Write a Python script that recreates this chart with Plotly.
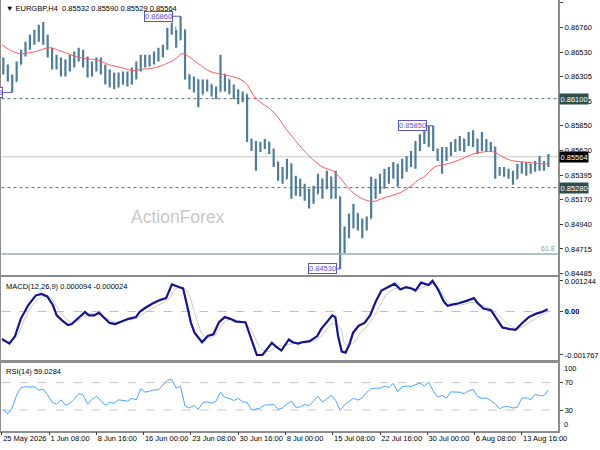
import numpy as np
import plotly.graph_objects as go

# EURGBP H4; price bars are merged to 12h (3 x H4) bars
first_open = 0.86420
highs = [0.86479, 0.86415, 0.86323, 0.86442, 0.86552, 0.86625, 0.86689, 0.86735, 0.86781, 0.86808,
         0.86689, 0.86570, 0.86506, 0.86479, 0.86460, 0.86506, 0.86534, 0.86570, 0.86552, 0.86488,
         0.86442, 0.86479, 0.86479, 0.86415, 0.86369, 0.86341, 0.86341, 0.86350, 0.86350, 0.86387,
         0.86442, 0.86506, 0.86506, 0.86506, 0.86534, 0.86570, 0.86598, 0.86753, 0.86799, 0.86735,
         0.86860, 0.86735, 0.86323, 0.86305, 0.86277, 0.86277, 0.86277, 0.86231, 0.86213, 0.86506,
         0.86323, 0.86277, 0.86231, 0.86186, 0.86167, 0.86140, 0.85728, 0.85709, 0.85700, 0.85728,
         0.85700, 0.85636, 0.85517, 0.85471, 0.85545, 0.85499, 0.85389, 0.85361, 0.85316, 0.85270,
         0.85297, 0.85407, 0.85361, 0.85435, 0.85380, 0.85435, 0.85197, 0.84922, 0.85041, 0.85132,
         0.85041, 0.84995, 0.85013, 0.85380, 0.85361, 0.85407, 0.85453, 0.85471, 0.85517, 0.85499,
         0.85545, 0.85572, 0.85618, 0.85709, 0.85773, 0.85801, 0.85847, 0.85850, 0.85636, 0.85654,
         0.85654, 0.85700, 0.85728, 0.85755, 0.85728, 0.85792, 0.85810, 0.85728, 0.85792, 0.85728,
         0.85700, 0.85654, 0.85471, 0.85471, 0.85453, 0.85435, 0.85499, 0.85517, 0.85517, 0.85499,
         0.85526, 0.85572, 0.85526, 0.85590]
lows = [0.86323, 0.86259, 0.86158, 0.86259, 0.86415, 0.86488, 0.86552, 0.86598, 0.86625, 0.86598,
        0.86479, 0.86369, 0.86369, 0.86305, 0.86305, 0.86350, 0.86387, 0.86442, 0.86387, 0.86295,
        0.86305, 0.86350, 0.86323, 0.86231, 0.86204, 0.86186, 0.86204, 0.86231, 0.86213, 0.86231,
        0.86277, 0.86350, 0.86387, 0.86396, 0.86415, 0.86442, 0.86479, 0.86552, 0.86689, 0.86570,
        0.86643, 0.86277, 0.86186, 0.86158, 0.86021, 0.86140, 0.86167, 0.86121, 0.86094, 0.86167,
        0.86167, 0.86140, 0.86094, 0.86048, 0.86066, 0.85700, 0.85618, 0.85435, 0.85609, 0.85636,
        0.85590, 0.85471, 0.85343, 0.85316, 0.85361, 0.85178, 0.85206, 0.85197, 0.85160, 0.85087,
        0.85132, 0.85224, 0.85178, 0.85270, 0.85178, 0.85178, 0.84530, 0.84675, 0.84812, 0.84903,
        0.84885, 0.84812, 0.84885, 0.84995, 0.85178, 0.85224, 0.85270, 0.85316, 0.85361, 0.85288,
        0.85361, 0.85426, 0.85471, 0.85453, 0.85618, 0.85682, 0.85654, 0.85618, 0.85526, 0.85407,
        0.85526, 0.85572, 0.85609, 0.85618, 0.85609, 0.85664, 0.85654, 0.85590, 0.85618, 0.85609,
        0.85609, 0.85361, 0.85389, 0.85380, 0.85361, 0.85307, 0.85361, 0.85407, 0.85389, 0.85407,
        0.85426, 0.85435, 0.85435, 0.85471]
closes = [0.86369, 0.86277, 0.86259, 0.86415, 0.86534, 0.86598, 0.86643, 0.86689, 0.86717, 0.86662,
          0.86534, 0.86442, 0.86460, 0.86369, 0.86415, 0.86442, 0.86506, 0.86506, 0.86460, 0.86350,
          0.86387, 0.86442, 0.86369, 0.86295, 0.86259, 0.86277, 0.86259, 0.86323, 0.86259, 0.86323,
          0.86415, 0.86460, 0.86442, 0.86479, 0.86506, 0.86534, 0.86570, 0.86717, 0.86753, 0.86643,
          0.86735, 0.86323, 0.86231, 0.86277, 0.86140, 0.86259, 0.86231, 0.86186, 0.86167, 0.86323,
          0.86277, 0.86204, 0.86140, 0.86121, 0.86140, 0.85728, 0.85682, 0.85654, 0.85664, 0.85700,
          0.85636, 0.85517, 0.85407, 0.85361, 0.85499, 0.85270, 0.85316, 0.85252, 0.85224, 0.85178,
          0.85224, 0.85361, 0.85270, 0.85380, 0.85316, 0.85197, 0.84720, 0.84858, 0.84977, 0.85041,
          0.84949, 0.84903, 0.84995, 0.85316, 0.85270, 0.85361, 0.85380, 0.85435, 0.85453, 0.85380,
          0.85499, 0.85545, 0.85590, 0.85636, 0.85728, 0.85755, 0.85819, 0.85636, 0.85590, 0.85545,
          0.85636, 0.85682, 0.85700, 0.85728, 0.85709, 0.85755, 0.85728, 0.85636, 0.85682, 0.85682,
          0.85654, 0.85453, 0.85435, 0.85407, 0.85389, 0.85361, 0.85453, 0.85471, 0.85453, 0.85453,
          0.85499, 0.85499, 0.85490, 0.85564]

# red moving average, sampled at H4 bar numbers
ma_bar = [0, 5, 12, 19, 25, 32, 37, 43, 50, 57, 66, 72, 81, 88, 94, 104, 110, 117, 122, 132,
          141, 150, 164, 172, 184, 192, 199, 208, 217, 225, 231, 237, 244, 251, 257, 264, 271, 277, 283, 286,
          293, 299, 306, 313, 319, 326, 333, 339, 346, 353, 359, 366, 370]
ma = [0.86598, 0.86552, 0.86515, 0.86524, 0.86543, 0.86570, 0.86552, 0.86524, 0.86488, 0.86469,
      0.86451, 0.86415, 0.86387, 0.86360, 0.86369, 0.86387, 0.86415, 0.86460, 0.86515, 0.86433,
      0.86350, 0.86323, 0.86259, 0.86103, 0.85975, 0.85828, 0.85709, 0.85572, 0.85471, 0.85426,
      0.85334, 0.85242, 0.85178, 0.85151, 0.85178, 0.85206, 0.85242, 0.85297, 0.85361, 0.85380,
      0.85471, 0.85490, 0.85517, 0.85554, 0.85590, 0.85609, 0.85609, 0.85563, 0.85526, 0.85517,
      0.85508, 0.85499, 0.85499]

macd_bar = [0, 5.1, 8.9, 12.8, 17.9, 23.0, 26.8, 30.7, 34.5, 37.1,
            40.9, 44.7, 47.3, 49.9, 53.7, 56.3, 58.8, 62.6, 65.7, 69.0,
            72.9, 76.7, 80.5, 85.7, 90.8, 93.3, 97.2, 102.3, 107.4, 111.2,
            115.1, 118.9, 122.7, 125.3, 127.9, 130.4, 135.5, 139.4, 143.2, 147.0,
            150.9, 154.7, 158.5, 164.9, 168.8, 172.6, 176.4, 179.0, 182.8, 185.4,
            189.2, 194.3, 196.9, 200.7, 203.3, 208.4, 213.5, 216.1, 219.9, 223.7,
            225.8, 227.6, 230.1, 232.7, 235.2, 237.8, 241.6, 245.5, 249.3, 253.1,
            257.0, 260.8, 265.9, 269.8, 273.6, 277.4, 280.0, 283.8, 288.9, 291.5,
            295.3, 299.2, 301.7, 305.6, 309.4, 314.5, 319.6, 322.2, 326.0, 331.1,
            335.0, 338.8, 343.9, 347.8, 351.6, 356.7, 361.8, 365.7, 369.5]
macd = [-0.001109, -0.001305, -0.000997, -0.000297, 0.000264, 0.000656, 0.000712, 0.000614, 0.000264, -0.000156,
        -0.000367, -0.000549, -0.000507, -0.000367, -0.000128, -0.000016, -0.000156, -0.000156, -0.000044, -0.000227,
        -0.000465, -0.000507, -0.000409, -0.000297, -0.000227, -0.000016, 0.000152, 0.000334, 0.000474, 0.000544,
        0.001104, 0.001034, 0.000936, 0.000264, -0.000437, -0.000857, -0.001249, -0.000997, -0.000927, -0.000437,
        -0.000227, -0.000297, -0.000409, -0.000437, -0.001137, -0.001767, -0.001767, -0.001557, -0.001277, -0.001417,
        -0.001585, -0.001137, -0.001249, -0.001305, -0.001249, -0.001207, -0.000997, -0.000717, -0.000437, -0.000157,
        -0.000227, -0.000997, -0.001627, -0.001669, -0.001347, -0.000857, -0.000577, -0.000465, -0.000157, 0.000404,
        0.000852, 0.000964, 0.001132, 0.000894, 0.000992, 0.000936, 0.000852, 0.001174, 0.001076, 0.001244,
        0.000894, 0.000404, 0.000236, 0.000292, 0.000334, 0.000432, 0.000544, 0.000334, 0.000124, 0.000054,
        -0.000297, -0.000647, -0.000717, -0.000745, -0.000507, -0.000227, -0.000087, -0.000016, 0.000094]

signal_bar = [0, 6.4, 11.5, 16.6, 21.7, 28.1, 32.0, 37.1, 43.5, 48.6,
              53.7, 58.8, 65.2, 71.6, 76.7, 83.1, 90.8, 98.4, 106.1, 112.5,
              117.6, 122.7, 126.6, 131.7, 136.8, 141.9, 147.0, 152.1, 159.8, 167.5,
              175.2, 180.3, 186.7, 193.1, 200.7, 208.4, 216.1, 223.7, 228.9, 232.7,
              237.8, 242.9, 249.3, 254.4, 259.5, 264.6, 272.3, 280.0, 287.7, 292.8,
              297.9, 303.0, 310.7, 318.4, 324.7, 331.1, 337.5, 343.9, 349.0, 355.4,
              361.8, 369.5]
signal = [-0.001207, -0.001207, -0.000857, -0.000156, 0.000334, 0.000614, 0.000614, 0.000194, -0.000297, -0.000437,
          -0.000297, -0.000086, -0.000128, -0.000297, -0.000437, -0.000367, -0.000269, 0.000012, 0.000264, 0.000474,
          0.000894, 0.000980, 0.000684, -0.000297, -0.000997, -0.001067, -0.000717, -0.000367, -0.000367, -0.000647,
          -0.001487, -0.001627, -0.001417, -0.001347, -0.001277, -0.001249, -0.000997, -0.000507, -0.000647, -0.001347,
          -0.001277, -0.000857, -0.000437, 0.000054, 0.000614, 0.000894, 0.000964, 0.000894, 0.001034, 0.001104,
          0.000754, 0.000334, 0.000264, 0.000376, 0.000264, 0.000096, -0.000227, -0.000577, -0.000689, -0.000507,
          -0.000269, -0.000024]

# RSI(14), one reading per 12h bar
rsi = [30.4, 24.9, 33, 52, 63, 64, 63.5, 64, 59, 60.5,
       52, 41.5, 38.5, 45, 37, 39.5, 46, 54, 52, 38.5,
       45.5, 50, 44, 37, 41.4, 40, 45, 44, 43, 47,
       45, 61, 56, 57.5, 59.5, 59.5, 66, 73.5, 75, 62,
       64.5, 35.5, 33, 37, 31, 41, 42, 40, 43, 56,
       48.6, 47, 44, 47, 42, 41, 30, 31.5, 33, 37.5,
       37.3, 38.5, 31, 33, 39, 43, 34, 34.5, 38, 36.5,
       43.5, 50, 41.5, 47, 51.3, 44, 29.5, 37.5, 43, 47.3,
       44.5, 48, 55.8, 61, 62, 62, 64.5, 63, 69, 57,
       64, 65, 64.5, 67.5, 69.3, 65, 70.5, 58, 49, 51,
       47.5, 56.5, 56, 56, 54, 58, 60, 50, 47, 47.5,
       44, 39, 32, 35, 35, 33, 34, 47.3, 48, 45,
       53, 51, 51, 59.0284]

price_ticks = [0.86985, 0.86760, 0.86530, 0.86305, 0.86075, 0.85850,
               0.85620, 0.85395, 0.85170, 0.84940, 0.84715, 0.84485]
date_bars = [0, 32, 64, 96, 128, 160, 192, 224, 256, 288, 320, 352]
date_labels = ["25 May 2026", "1 Jun 08:00", "8 Jun 16:00", "16 Jun 00:00", "23 Jun 08:00",
               "30 Jun 16:00", "8 Jul 00:00", "15 Jul 08:00", "22 Jul 16:00", "30 Jul 00:00",
               "6 Aug 08:00", "13 Aug 16:00"]

level_top = 0.86100
level_bottom = 0.85280
bid = 0.85564
fib_618 = 0.84668
# swing labels: (bar of the extreme, price, bar where the label box ends)
swings = [(7, 0.86158, 0.9), (121, 0.86860, 115.6), (229, 0.84530, 227.2), (292, 0.85850, 288.0)]

W, H = 600, 450
def fx(px):
    return px / W
def fy(py):
    return 1 - py / H

FONT = "Liberation Sans, Arial, sans-serif"
BAR = "#4f7c98"
FRAME = "#8c8c8c"
SWING = "#5a55c8"

bar_x = np.arange(len(closes)) * 3 + 1
opens = [first_open] + closes[:-1]

fig = go.Figure()
fig.add_trace(go.Ohlc(x=bar_x, open=opens, high=highs, low=lows, close=closes,
                      increasing=dict(line=dict(color=BAR, width=2.2)),
                      decreasing=dict(line=dict(color=BAR, width=2.2)),
                      tickwidth=0.2, hoverinfo="skip", xaxis="x", yaxis="y"))
fig.add_trace(go.Scatter(x=ma_bar, y=ma, mode="lines", line=dict(color="#ff5a5a", width=1, shape="spline"),
                         xaxis="x", yaxis="y"))
fig.add_trace(go.Scatter(x=signal_bar, y=signal, mode="lines", line=dict(color="#c8c8c8", width=1, shape="spline"),
                         xaxis="x2", yaxis="y2"))
fig.add_trace(go.Scatter(x=macd_bar, y=macd, mode="lines", line=dict(color="#14148c", width=2.2),
                         xaxis="x2", yaxis="y2"))
fig.add_trace(go.Scatter(x=bar_x, y=rsi, mode="lines", line=dict(color="#4aa3ff", width=1),
                         xaxis="x3", yaxis="y3"))

xdom = [fx(1.5), fx(566)]
xrange = [-0.27, 376.8]
axis_font = dict(family=FONT, size=7.5, color="#000000")
common_x = dict(domain=xdom, range=xrange, showgrid=False, zeroline=False, showline=True,
                linecolor=FRAME, linewidth=1.5, fixedrange=True)
common_y = dict(side="right", showgrid=False, zeroline=False, showline=True, mirror=True,
                linecolor=FRAME, linewidth=1.5, ticks="outside", ticklen=3, tickcolor="#404040",
                tickfont=axis_font, fixedrange=True)

fig.update_layout(
    width=W, height=H, margin=dict(l=0, r=0, t=0, b=0),
    paper_bgcolor="white", plot_bgcolor="white", showlegend=False, hovermode=False,
    xaxis=dict(common_x, anchor="y", showticklabels=False, rangeslider=dict(visible=False)),
    xaxis2=dict(common_x, anchor="y2", mirror=True, showticklabels=False),
    xaxis3=dict(common_x, anchor="y3", mirror=True, tickvals=date_bars, ticktext=date_labels,
                ticks="outside", ticklen=3, tickcolor="#404040", tickfont=axis_font,
                ticklabelposition="outside right", tickangle=0),
    yaxis=dict(common_y, anchor="x", domain=[fy(277), 1], range=[0.844729, 0.870097],
               tickvals=price_ticks, ticktext=[f"{v:.5f}" for v in price_ticks]),
    yaxis2=dict(common_y, anchor="x2", domain=[fy(363.3), fy(278.5)], range=[-0.002006, 0.001417],
                tickvals=[0.001244, 0, -0.001767], ticktext=["0.001244", "<b>0.00</b>", "-0.001767"]),
    yaxis3=dict(common_y, anchor="x3", domain=[fy(433.5), fy(364.5)], range=[0, 100],
                tickvals=[70, 30], ticktext=["70", "30"]),
)

# horizontal levels
fig.add_shape(type="line", xref="x domain", yref="y", x0=0, x1=1, y0=level_top, y1=level_top,
              line=dict(color="#4f6f6f", width=1, dash="dot"))
fig.add_shape(type="line", xref="x domain", yref="y", x0=0, x1=1, y0=level_bottom, y1=level_bottom,
              line=dict(color="#4f6f6f", width=1, dash="dot"))
fig.add_shape(type="line", xref="x domain", yref="y", x0=0, x1=1, y0=bid, y1=bid,
              line=dict(color="#c8c8c8", width=1), layer="below")
fig.add_shape(type="line", xref="x domain", yref="y", x0=0, x1=1, y0=fib_618, y1=fib_618,
              line=dict(color="#9aabb4", width=1.5))
fig.add_shape(type="line", xref="x2 domain", yref="y2", x0=0, x1=1, y0=0, y1=0,
              line=dict(color="#c0c0c0", width=1, dash="dash"), layer="below")
for lvl in (70, 30):
    fig.add_shape(type="line", xref="x3 domain", yref="y3", x0=0, x1=1, y0=lvl, y1=lvl,
                  line=dict(color="#c8c8c8", width=1, dash="dash"), layer="below")

# swing high / low labels with connectors
for bar, price, box_end in swings:
    fig.add_shape(type="line", xref="x", yref="y", x0=box_end, x1=bar, y0=price, y1=price,
                  line=dict(color=SWING, width=1))
    fig.add_annotation(x=box_end, y=price, xref="x", yref="y", xanchor="right", yanchor="middle",
                       text=f"{price:.5f}", showarrow=False, bgcolor="white", bordercolor=SWING,
                       borderwidth=1, borderpad=0, font=dict(family=FONT, size=7.5, color=SWING))

# price tags on the right scale
for price, bg in ((level_top, "#2f4f4f"), (bid, "#000000"), (level_bottom, "#2f4f4f")):
    fig.add_annotation(x=fx(567), y=price, xref="paper", yref="y", xanchor="left", yanchor="middle",
                       text=f"{price:.5f}", showarrow=False, bgcolor=bg, borderpad=0.5,
                       font=dict(family=FONT, size=7.5, color="white"))

fig.add_annotation(x=0.997, y=fib_618, xref="x domain", yref="y", xanchor="right", yanchor="bottom",
                   text="61.8", showarrow=False, font=dict(family=FONT, size=7, color="#8a9ca6"))
fig.add_annotation(x=fx(566) + 0.006, y=1, xref="paper", yref="y3 domain", xanchor="left", yanchor="top",
                   text="100", showarrow=False, font=axis_font)
fig.add_annotation(x=fx(566) + 0.006, y=0, xref="paper", yref="y3 domain", xanchor="left", yanchor="bottom",
                   text="0", showarrow=False, font=axis_font)

fig.add_annotation(x=fx(4), y=fy(2), xref="paper", yref="paper", xanchor="left", yanchor="top",
                   text="\u25bc EURGBP,H4  0.85532 0.85590 0.85529 0.85564", showarrow=False,
                   font=dict(family=FONT, size=7.5, color="#000000"))
fig.add_annotation(x=fx(4), y=fy(282), xref="paper", yref="paper", xanchor="left", yanchor="top",
                   text="MACD(12,26,9) 0.000094 -0.000024", showarrow=False,
                   font=dict(family=FONT, size=7.5, color="#000000"))
fig.add_annotation(x=fx(4), y=fy(367), xref="paper", yref="paper", xanchor="left", yanchor="top",
                   text="RSI(14) 59.0284", showarrow=False,
                   font=dict(family=FONT, size=7.5, color="#000000"))
fig.add_annotation(x=fx(180), y=fy(218), xref="paper", yref="paper", xanchor="center", yanchor="middle",
                   text="ActionForex", showarrow=False,
                   font=dict(family=FONT, size=17.5, color="#c8c8c8"))

# the page body keeps an 8px margin by default; drop it so the figure fills the window
fig.write_html("out.html", config={"displayModeBar": False},
               post_script="document.body.style.margin='0';")
